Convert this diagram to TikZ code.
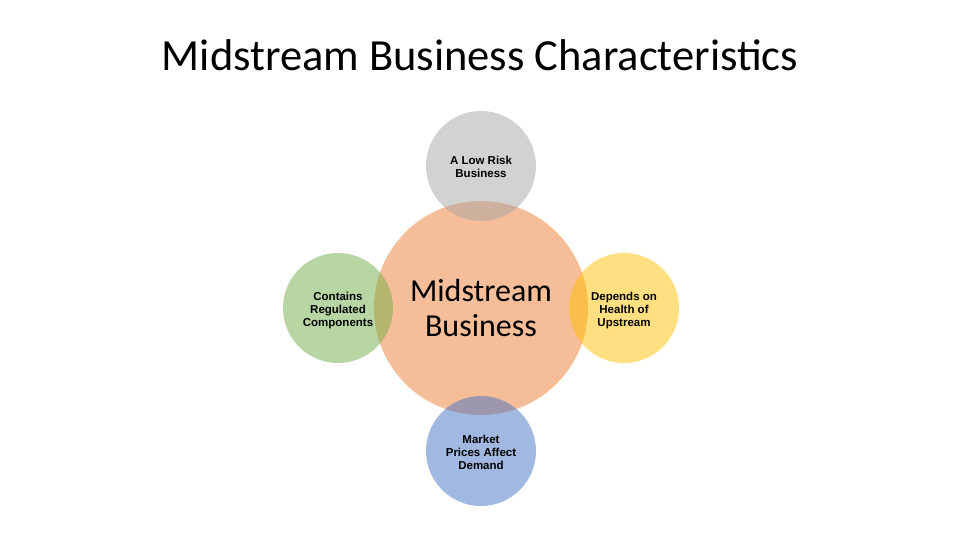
\documentclass[tikz,border=0pt]{standalone}
\usepackage{fontspec}
\setmainfont{Carlito}
\newfontfamily\arialfont{Liberation Sans}
\definecolor{offOrange}{HTML}{ED7D31}
\definecolor{offGray}{HTML}{A5A5A5}
\definecolor{offGreen}{HTML}{70AD47}
\definecolor{offYellow}{HTML}{FFC000}
\definecolor{offBlue}{HTML}{4472C4}
\begin{document}
\begin{tikzpicture}[x=1pt,y=-1pt,
  bigc/.style={circle, minimum size=214pt, inner sep=0pt, fill opacity=0.5, text opacity=1, align=center,
    font=\fontsize{32}{35}\selectfont},
  smallc/.style={circle, minimum size=110pt, inner sep=0pt, fill opacity=0.5, text opacity=1, align=center,
    font=\arialfont\bfseries\fontsize{11.5}{13}\selectfont},
  lbl/.style={align=center, inner sep=0pt, font=\arialfont\bfseries\fontsize{11.5}{13}\selectfont}]
\useasboundingbox (0,0) rectangle (960,540);
\node[font=\fontsize{44.5}{50}\selectfont, anchor=base] (title) at (480,71) {Midstream Business Characteristics};
\node[bigc, fill=offOrange] (main) at (481,308) {Midstream\\Business};
\node[smallc, fill=offGray] (top) at (481,166) {};
\node[lbl] (topt) at (481,167) {A Low Risk\\Business};
\node[smallc, fill=offGreen] (left) at (338,308) {};
\node[lbl] (leftt) at (338,310.5) {Contains\\Regulated\\Components};
\node[smallc, fill=offYellow] (right) at (624,308) {};
\node[lbl] (rightt) at (624,310.5) {Depends on\\Health of\\Upstream};
\node[smallc, fill=offBlue] (bottom) at (481,451) {};
\node[lbl] (bottomt) at (481,452) {Market\\Prices Affect\\Demand};
\end{tikzpicture}
\end{document}
